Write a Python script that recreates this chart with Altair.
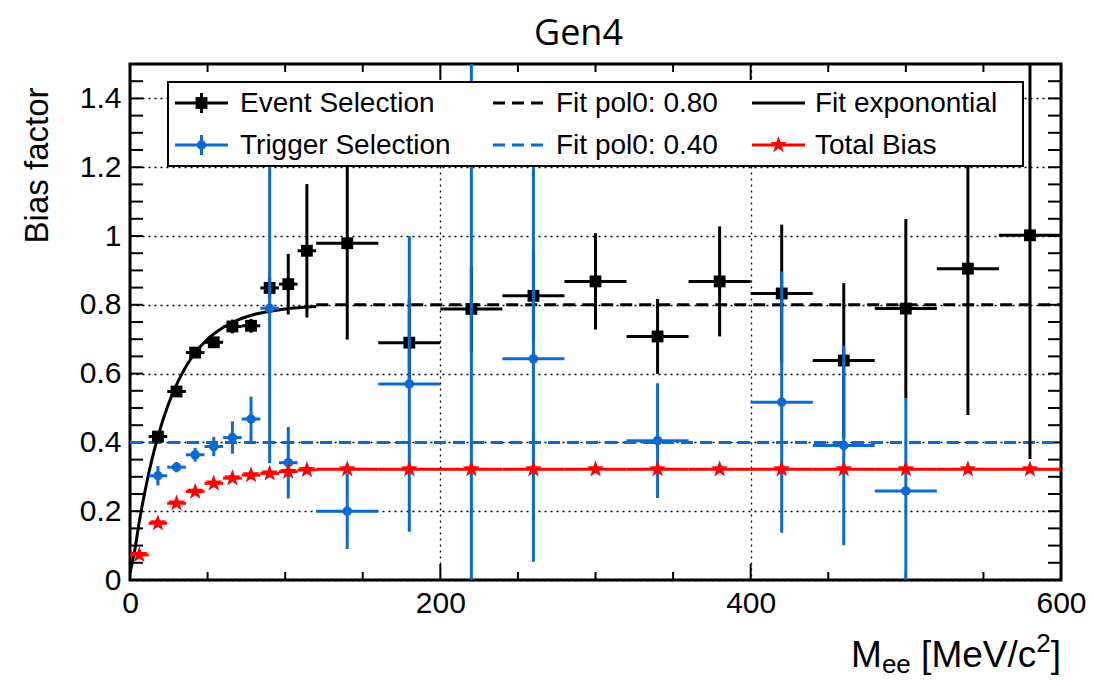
import altair as alt
import pandas as pd

# ---------------- data ----------------
event_x = [18, 30, 42, 54, 66, 78, 90, 102, 114, 140, 180, 220, 260, 300, 340, 380, 420, 460, 500, 540, 580]
event_xerr = [6, 6, 6, 6, 6, 6, 6, 6, 6, 20, 20, 20, 20, 20, 20, 20, 20, 20, 20, 20, 20]
event_y = [0.417, 0.548, 0.661, 0.691, 0.737, 0.739, 0.849, 0.860, 0.957, 0.979, 0.690, 0.788, 0.826,
           0.868, 0.708, 0.868, 0.833, 0.638, 0.789, 0.905, 1.002]
event_yerr = [0.010, 0.012, 0.012, 0.014, 0.020, 0.020, 0.030, 0.088, 0.194, 0.280, 0.130, 0.124, 0.125,
              0.140, 0.109, 0.160, 0.200, 0.225, 0.260, 0.425, 0.650]

trigger_x = [18, 30, 42, 54, 66, 78, 90, 102, 140, 180, 220, 260, 340, 420, 460, 500]
trigger_xerr = [6, 6, 6, 6, 6, 6, 6, 6, 20, 20, 20, 20, 20, 20, 20, 20]
trigger_y = [0.303, 0.328, 0.364, 0.388, 0.414, 0.468, 0.790, 0.341, 0.200, 0.570, 1.600, 0.643,
             0.405, 0.517, 0.391, 0.259]
trigger_yerr = [0.028, 0.015, 0.020, 0.028, 0.047, 0.065, 0.450, 0.104, 0.110, 0.430, 1.700, 0.590,
                0.167, 0.380, 0.290, 0.270]

total_x = [6, 18, 30, 42, 54, 66, 78, 90, 102, 114, 140, 180, 220, 260, 300, 340, 380, 420, 460, 500, 540, 580]
total_xerr = [6, 6, 6, 6, 6, 6, 6, 6, 6, 6, 20, 20, 20, 20, 20, 20, 20, 20, 20, 20, 20, 20]
total_y = [0.073, 0.165, 0.223, 0.257, 0.281, 0.296, 0.305, 0.310, 0.315, 0.320, 0.322, 0.322, 0.322,
           0.322, 0.322, 0.322, 0.322, 0.322, 0.322, 0.322, 0.322, 0.322]

expfit_x = [0, 3, 6, 9, 12, 15, 18, 24, 30, 36, 42, 50, 60, 70, 80, 90, 100, 110, 120]
expfit_y = [0.02, 0.085, 0.170, 0.243, 0.308, 0.366, 0.417, 0.502, 0.568, 0.620, 0.660, 0.700, 0.734,
            0.757, 0.772, 0.781, 0.788, 0.792, 0.795]

pol0_event_x = [120, 600]
pol0_event_y = [0.80, 0.80]
pol0_trig_x = [0, 600]
pol0_trig_y = [0.40, 0.40]

x_major = [0, 200, 400, 600]
x_minor = [50, 100, 150, 250, 300, 350, 450, 500, 550]
y_major = [0, 0.2, 0.4, 0.6, 0.8, 1.0, 1.2, 1.4]
y_minor = [0.05, 0.1, 0.15, 0.25, 0.3, 0.35, 0.45, 0.5, 0.55, 0.65, 0.7, 0.75, 0.85, 0.9, 0.95,
           1.05, 1.1, 1.15, 1.25, 1.3, 1.35, 1.45]

chart_title = "Gen4"
legend_labels = ["Event Selection", "Trigger Selection", "Fit pol0: 0.80", "Fit pol0: 0.40",
                 "Fit exponontial", "Total Bias"]
x_title_parts = ["M", "ee", " [MeV/c", "2", "]"]   # M_{ee} [MeV/c^{2}]

# ---------------- styling ----------------
W, H = 931, 516
BLACK = "#000000"
BLUE = "#0a6ad2"
RED = "#ff0000"
FONT = "Liberation Sans"
STAR = ("M0,-1L0.235,-0.324L0.951,-0.309L0.380,0.124L0.588,0.809L0,0.4"
        "L-0.588,0.809L-0.380,0.124L-0.951,-0.309L-0.235,-0.324Z")
SQ_SIZE, CIRC_SIZE, STAR_SIZE = 140, 90, 320

xs = alt.Scale(domain=[0, 600], nice=False, zero=False)
ys = alt.Scale(domain=[0, 1.5], nice=False, zero=False)

AX = alt.Axis(
    values=x_major, title=None, ticks=False, domain=False,
    grid=True, gridDash=[2, 4], gridColor=BLACK, gridWidth=1.3, gridOpacity=1,
    labelFont=FONT, labelFontSize=30, labelColor=BLACK, labelPadding=8,
    labelFlush=False, labelOverlap=False)
AY = alt.Axis(
    values=y_major, format=".1~f", title="Bias factor", ticks=False, domain=False,
    grid=True, gridDash=[2, 4], gridColor=BLACK, gridWidth=1.3, gridOpacity=1,
    labelFont=FONT, labelFontSize=30, labelColor=BLACK, labelPadding=9,
    titleFont=FONT, titleFontSize=33, titleFontWeight="normal", titleColor=BLACK,
    titleAngle=-90, titleAlign="right", titleBaseline="alphabetic",
    titleX=-83, titleY=23, labelFlush=False, labelOverlap=False)


def errdf(x, xerr, y, yerr=None):
    df = pd.DataFrame({"x": x, "xerr": xerr, "y": y})
    df["xlo"] = df["x"] - df["xerr"]
    df["xhi"] = df["x"] + df["xerr"]
    if yerr is not None:
        df["yerr"] = yerr
        df["ylo"] = df["y"] - df["yerr"]
        df["yhi"] = df["y"] + df["yerr"]
    return df


ev = errdf(event_x, event_xerr, event_y, event_yerr)
tr = errdf(trigger_x, trigger_xerr, trigger_y, trigger_yerr)
tot = errdf(total_x, total_xerr, total_y)
fit = pd.DataFrame({"x": expfit_x, "y": expfit_y})
p0e = pd.DataFrame({"x": pol0_event_x, "y": pol0_event_y})
p0t = pd.DataFrame({"x": pol0_trig_x, "y": pol0_trig_y})

Xn = lambda f: alt.X(f"{f}:Q", scale=xs, axis=AX)
Yn = lambda f: alt.Y(f"{f}:Q", scale=ys, axis=AY)

layers = []

# tick marks pointing inside, on all four sides
ytk_all = pd.DataFrame({"v": y_major + y_minor})
layers.append(alt.Chart(ytk_all).mark_rule(color=BLACK, strokeWidth=2).encode(
    y=Yn("v"), x=alt.value(0), x2=alt.value(13)))
layers.append(alt.Chart(ytk_all).mark_rule(color=BLACK, strokeWidth=2).encode(
    y=Yn("v"), x=alt.value(W - 13), x2=alt.value(W)))
xmaj = pd.DataFrame({"v": x_major})
xmin = pd.DataFrame({"v": x_minor})
layers.append(alt.Chart(xmaj).mark_rule(color=BLACK, strokeWidth=2).encode(
    x=Xn("v"), y=alt.value(H - 16), y2=alt.value(H)))
layers.append(alt.Chart(xmin).mark_rule(color=BLACK, strokeWidth=2).encode(
    x=Xn("v"), y=alt.value(H - 8), y2=alt.value(H)))
layers.append(alt.Chart(xmaj).mark_rule(color=BLACK, strokeWidth=2).encode(
    x=Xn("v"), y=alt.value(0), y2=alt.value(16)))
layers.append(alt.Chart(xmin).mark_rule(color=BLACK, strokeWidth=2).encode(
    x=Xn("v"), y=alt.value(0), y2=alt.value(8)))

# fits
layers.append(alt.Chart(p0e).mark_line(color=BLACK, strokeWidth=3, strokeDash=[12, 7], clip=True).encode(
    x=Xn("x"), y=Yn("y")))
layers.append(alt.Chart(p0t).mark_line(color=BLUE, strokeWidth=3, strokeDash=[12, 7], clip=True).encode(
    x=Xn("x"), y=Yn("y")))
layers.append(alt.Chart(fit).mark_line(color=BLACK, strokeWidth=3, clip=True, interpolate="monotone").encode(
    x=Xn("x"), y=Yn("y")))

# event selection
layers.append(alt.Chart(ev).mark_rule(color=BLACK, strokeWidth=3, clip=True).encode(
    x=Xn("x"), y=Yn("ylo"), y2="yhi:Q"))
layers.append(alt.Chart(ev).mark_rule(color=BLACK, strokeWidth=3, clip=True).encode(
    x=Xn("xlo"), x2="xhi:Q", y=Yn("y")))
layers.append(alt.Chart(ev).mark_point(shape="square", filled=True, size=SQ_SIZE, color=BLACK, opacity=1,
                                       clip=True).encode(x=Xn("x"), y=Yn("y")))

# trigger selection
layers.append(alt.Chart(tr).mark_rule(color=BLUE, strokeWidth=3, clip=True).encode(
    x=Xn("x"), y=Yn("ylo"), y2="yhi:Q"))
layers.append(alt.Chart(tr).mark_rule(color=BLUE, strokeWidth=3, clip=True).encode(
    x=Xn("xlo"), x2="xhi:Q", y=Yn("y")))
layers.append(alt.Chart(tr).mark_point(shape="circle", filled=True, size=CIRC_SIZE, color=BLUE, opacity=1,
                                       clip=True).encode(x=Xn("x"), y=Yn("y")))

# total bias
layers.append(alt.Chart(tot).mark_rule(color=RED, strokeWidth=3, clip=True).encode(
    x=Xn("xlo"), x2="xhi:Q", y=Yn("y")))
layers.append(alt.Chart(tot).mark_point(shape=STAR, filled=True, size=STAR_SIZE, color=RED, opacity=1,
                                        clip=True).encode(x=Xn("x"), y=Yn("y")))

# ---------------- legend (drawn by hand, ROOT style) ----------------
one = alt.Data(values=[{"k": 0}])
LX0, LX1, LY0, LY1 = 38, 893, 18, 102
ROW = [39, 81]
COLS = [(45, 98, 110), (363, 415, 426), (622, 675, 685)]

layers.append(alt.Chart(one).mark_rect(fill="white", stroke=BLACK, strokeWidth=2).encode(
    x=alt.value(LX0), x2=alt.value(LX1), y=alt.value(LY0), y2=alt.value(LY1)))


def lg_line(c, r, color, dash=None):
    kw = dict(color=color, strokeWidth=3)
    if dash:
        kw["strokeDash"] = dash
    x0, x1, _ = COLS[c]
    return alt.Chart(one).mark_rule(**kw).encode(
        x=alt.value(x0), x2=alt.value(x1), y=alt.value(ROW[r]))


def lg_vbar(c, r, color):
    x0, x1, _ = COLS[c]
    return alt.Chart(one).mark_rule(color=color, strokeWidth=3).encode(
        x=alt.value((x0 + x1) / 2), y=alt.value(ROW[r] - 10), y2=alt.value(ROW[r] + 10))


def lg_pt(c, r, color, shape, size):
    x0, x1, _ = COLS[c]
    return alt.Chart(one).mark_point(shape=shape, filled=True, size=size, color=color, opacity=1).encode(
        x=alt.value((x0 + x1) / 2), y=alt.value(ROW[r]))


def lg_text(c, r, label):
    _, _, tx = COLS[c]
    return alt.Chart(one).mark_text(align="left", baseline="middle", font=FONT, fontSize=28,
                                    color=BLACK, text=label).encode(
        x=alt.value(tx), y=alt.value(ROW[r] + 1))


layers += [
    lg_line(0, 0, BLACK), lg_vbar(0, 0, BLACK), lg_pt(0, 0, BLACK, "square", SQ_SIZE),
    lg_text(0, 0, legend_labels[0]),
    lg_line(0, 1, BLUE), lg_vbar(0, 1, BLUE), lg_pt(0, 1, BLUE, "circle", CIRC_SIZE),
    lg_text(0, 1, legend_labels[1]),
    lg_line(1, 0, BLACK, [12, 7]), lg_text(1, 0, legend_labels[2]),
    lg_line(1, 1, BLUE, [12, 7]), lg_text(1, 1, legend_labels[3]),
    lg_line(2, 0, BLACK), lg_text(2, 0, legend_labels[4]),
    lg_line(2, 1, RED), lg_pt(2, 1, RED, STAR, STAR_SIZE), lg_text(2, 1, legend_labels[5]),
]

# ---------------- x-axis title, ROOT-style with sub/superscript ----------------
# pieces are right-aligned one after another (widths from Liberation Sans metrics)
T_MAIN, T_SMALL, T_BASE = 37, 26, 603
adv = {"M": 0.833, "e": 0.556, " ": 0.278, "[": 0.278, "V": 0.667, "/": 0.278, "c": 0.5,
       "2": 0.556, "]": 0.278}
piece_size = [T_MAIN, T_SMALL, T_MAIN, T_SMALL, T_MAIN]
piece_dy = [0, 6, 0, -15, 0]
right = W
pos = []
for txt, sz in zip(reversed(x_title_parts), reversed(piece_size)):
    pos.append(right)
    right -= sum(adv[ch] for ch in txt) * sz
pos = list(reversed(pos))
for txt, sz, dy, rx in zip(x_title_parts, piece_size, piece_dy, pos):
    layers.append(alt.Chart(one).mark_text(align="right", baseline="alphabetic", font=FONT, fontSize=sz,
                                           color=BLACK, text=txt).encode(
        x=alt.value(rx), y=alt.value(T_BASE + dy)))

# ---------------- chart title (ROOT title box, slightly left of centre) ----------------
layers.append(alt.Chart(one).mark_text(align="center", baseline="alphabetic", font="Open Sans",
                                       fontSize=36, color=BLACK, text=chart_title).encode(
    x=alt.value(W / 2 - 17), y=alt.value(-19)))

chart = alt.layer(*layers).properties(
    width=W, height=H,
    background="white",
    autosize=alt.AutoSizeParams(type="none"),
    padding={"left": 122, "top": 56, "right": 25, "bottom": 98},
).configure_view(stroke=BLACK, strokeWidth=3)

chart.save("out.html", embed_options={"renderer": "svg", "actions": False})
